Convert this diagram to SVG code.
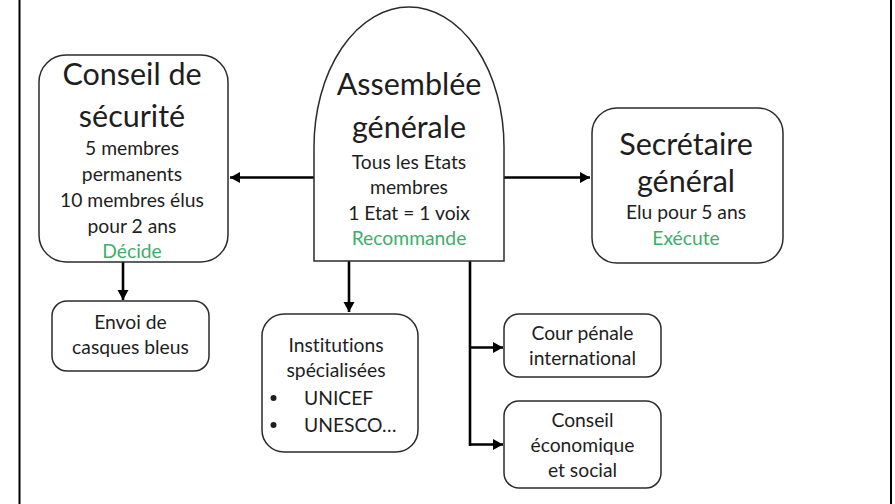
<svg xmlns="http://www.w3.org/2000/svg" width="895" height="504" viewBox="0 0 895 504">
<defs>
<style>
.box{fill:#fff;stroke:#2b2b2b;stroke-width:1.5}
.t{font-family:Lato,"Open Sans","Liberation Sans",sans-serif;fill:#1e1e1e;text-anchor:middle;font-variant-ligatures:none;font-feature-settings:"liga" 0}
.big{font-size:30.5px}
.sm{font-size:19.3px}
.g{fill:#3dae6b}
.c{fill:none;stroke:#000;stroke-width:2.6}
</style>
<marker id="ah" markerUnits="userSpaceOnUse" markerWidth="12" markerHeight="12" refX="10" refY="5.5" orient="auto">
<path d="M0,0 L10,5.5 L0,11 Z" fill="#000"/>
</marker>
</defs>
<rect width="895" height="504" fill="#fff"/>
<g id="frame">
<line x1="19.5" y1="0" x2="19.5" y2="504" stroke="#000" stroke-width="2"/>
<line x1="891" y1="0" x2="891" y2="504" stroke="#000" stroke-width="2"/>
</g>
<g id="connectors">
<line class="c" x1="314" y1="177.5" x2="230" y2="177.5" marker-end="url(#ah)"/>
<line class="c" x1="504" y1="177.5" x2="590" y2="177.5" marker-end="url(#ah)"/>
<line class="c" x1="123" y1="262" x2="123" y2="300" marker-end="url(#ah)"/>
<line class="c" x1="349" y1="261" x2="349" y2="312" marker-end="url(#ah)"/>
<polyline class="c" points="470,261 470,446"/>
<line class="c" x1="469" y1="347.5" x2="503" y2="347.5" marker-end="url(#ah)"/>
<line class="c" x1="469" y1="444.5" x2="503" y2="444.5" marker-end="url(#ah)"/>
</g>
<g id="conseil-securite">
<rect class="box" x="39" y="55" width="189" height="207" rx="27"/>
<text class="t big" x="132" y="85">Conseil de</text>
<text class="t big" x="132" y="127">sécurité</text>
<text class="t sm" x="132" y="155">5 membres</text>
<text class="t sm" x="132" y="181">permanents</text>
<text class="t sm" x="132" y="207">10 membres élus</text>
<text class="t sm" x="132" y="233">pour 2 ans</text>
<text class="t sm g" x="132" y="258">Décide</text>
</g>
<g id="assemblee-generale">
<path class="box" d="M314,261 L314,147 A95,140 0 0 1 504,147 L504,261 Z"/>
<text class="t big" x="409" y="95">Assemblée</text>
<text class="t big" x="409" y="138">générale</text>
<text class="t sm" x="409" y="169">Tous les Etats</text>
<text class="t sm" x="409" y="194">membres</text>
<text class="t sm" x="409" y="220">1 Etat = 1 voix</text>
<text class="t sm g" x="409" y="245">Recommande</text>
</g>
<g id="secretaire-general">
<rect class="box" x="592" y="108" width="191" height="155" rx="25"/>
<text class="t big" x="686" y="155">Secrétaire</text>
<text class="t big" x="686" y="192">général</text>
<text class="t sm" x="686" y="219">Elu pour 5 ans</text>
<text class="t sm g" x="686" y="245">Exécute</text>
</g>
<g id="casques-bleus">
<rect class="box" x="52" y="301" width="157" height="70" rx="15"/>
<text class="t sm" x="130.5" y="329">Envoi de</text>
<text class="t sm" x="130.5" y="354">casques bleus</text>
</g>
<g id="institutions">
<rect class="box" x="262" y="314" width="156" height="138" rx="22"/>
<text class="t sm" x="336" y="352">Institutions</text>
<text class="t sm" x="336" y="377">spécialisées</text>
<circle cx="273.5" cy="398" r="3" fill="#1e1e1e"/>
<text class="t sm" x="304" y="405" style="text-anchor:start">UNICEF</text>
<circle cx="273.5" cy="425" r="3" fill="#1e1e1e"/>
<text class="t sm" x="304" y="432" style="text-anchor:start">UNESCO…</text>
</g>
<g id="cour-penale">
<rect class="box" x="504" y="314" width="157" height="63" rx="15"/>
<text class="t sm" x="582.5" y="340">Cour pénale</text>
<text class="t sm" x="582.5" y="365">international</text>
</g>
<g id="conseil-economique">
<rect class="box" x="504" y="401" width="157" height="87" rx="15"/>
<text class="t sm" x="582.5" y="427">Conseil</text>
<text class="t sm" x="582.5" y="452">économique</text>
<text class="t sm" x="582.5" y="477">et social</text>
</g>
</svg>
